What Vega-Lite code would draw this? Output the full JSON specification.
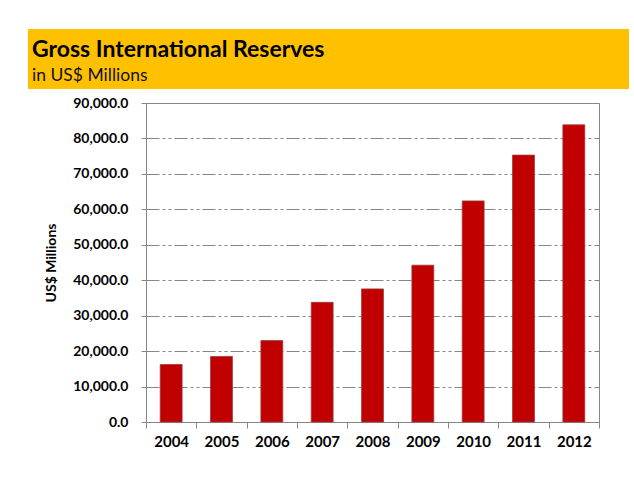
{
  "$schema": "https://vega.github.io/schema/vega-lite/v6.json",
  "background": "white",
  "padding": {"left": 28, "top": 29, "right": 5, "bottom": 5},
  "spacing": {"row": 14, "column": 0},
  "columns": 2,
  "bounds": "flush",
  "config": {
    "font": "Lato",
    "view": {"stroke": "#868686"}
  },
  "data": {"values": [
    {"year": "2004", "reserves": 16228},
    {"year": "2005", "reserves": 18494},
    {"year": "2006", "reserves": 22967},
    {"year": "2007", "reserves": 33751},
    {"year": "2008", "reserves": 37551},
    {"year": "2009", "reserves": 44243},
    {"year": "2010", "reserves": 62373},
    {"year": "2011", "reserves": 75302},
    {"year": "2012", "reserves": 83831}
  ]},
  "concat": [
    {
      "width": 118,
      "height": 60,
      "view": {"fill": "#FFC000", "stroke": null},
      "transform": [{"filter": "datum.year == '2004'"}],
      "mark": {"type": "point", "opacity": 0}
    },
    {
      "width": 483,
      "height": 60,
      "view": {"fill": "#FFC000", "stroke": null},
      "title": {
        "text": "Gross International Reserves",
        "subtitle": "in US$ Millions",
        "anchor": "start",
        "frame": "group",
        "orient": "top",
        "offset": -55,
        "dx": -114,
        "font": "Lato",
        "fontSize": 23,
        "fontWeight": "bold",
        "color": "black",
        "subtitleFont": "Lato",
        "subtitleFontSize": 17.5,
        "subtitleColor": "#111111",
        "subtitlePadding": 5
      },
      "transform": [{"filter": "datum.year == '2004'"}],
      "mark": {"type": "point", "opacity": 0}
    },
    {
      "width": 118,
      "height": 319,
      "view": {"stroke": null},
      "mark": {"type": "tick", "opacity": 0},
      "encoding": {
        "y": {
          "field": "reserves", "type": "quantitative",
          "scale": {"domain": [0, 90000], "nice": false},
          "axis": {
            "orient": "left", "offset": -118,
            "title": "US$ Millions",
            "titleFont": "Lato", "titleFontSize": 14, "titleFontWeight": "bold",
            "titleColor": "black", "titlePadding": 14,
            "values": [0, 10000, 20000, 30000, 40000, 50000, 60000, 70000, 80000, 90000],
            "format": ",.1f",
            "labelFont": "Lato", "labelFontSize": 14, "labelFontWeight": "bold",
            "labelColor": "black", "labelPadding": 13,
            "tickSize": 5, "tickColor": "#868686", "domain": false, "grid": false
          }
        }
      }
    },
    {
      "width": 453,
      "height": 319,
      "mark": {"type": "bar", "color": "#C00000", "stroke": "#9E3A3A", "strokeWidth": 0.8, "width": {"band": 0.435}},
      "encoding": {
        "x": {
          "field": "year", "type": "ordinal",
          "scale": {"paddingInner": 0, "paddingOuter": 0},
          "axis": {
            "title": null, "labelAngle": 0, "tickBand": "extent",
            "tickSize": 6, "tickColor": "#868686", "domainColor": "#868686",
            "labelFont": "Lato", "labelFontSize": 15, "labelFontWeight": "bold",
            "labelColor": "black", "labelPadding": 6
          }
        },
        "y": {
          "field": "reserves", "type": "quantitative",
          "scale": {"domain": [0, 90000], "nice": false},
          "axis": {
            "title": null, "labels": false, "ticks": false, "domain": false,
            "values": [0, 10000, 20000, 30000, 40000, 50000, 60000, 70000, 80000, 90000],
            "grid": true, "gridColor": "#868686", "gridDash": [13, 3, 3, 3, 3, 3], "gridWidth": 1
          }
        }
      }
    }
  ]
}
